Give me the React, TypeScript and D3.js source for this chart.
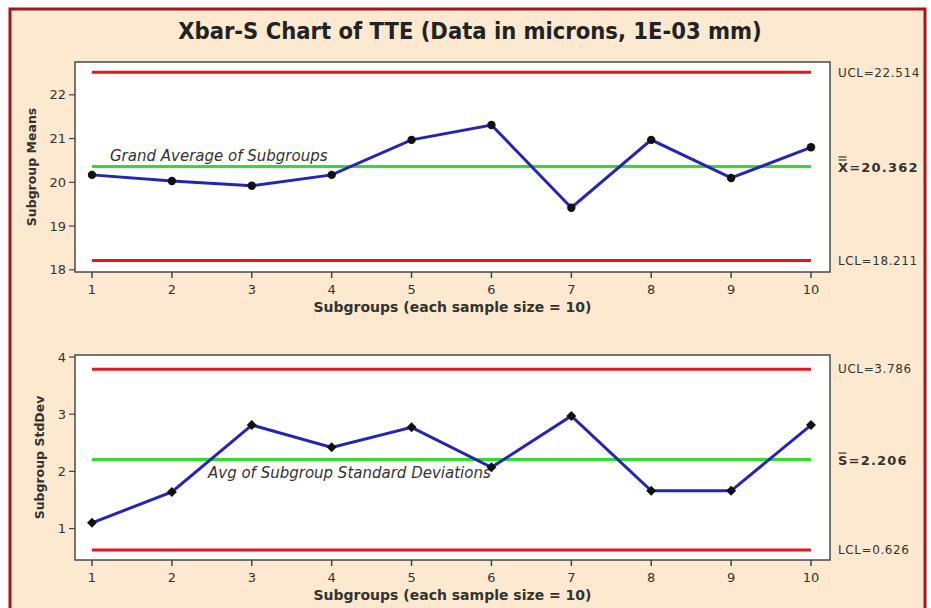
import React from "react";
import * as d3 from "d3";

const WIDTH = 931;
const HEIGHT = 608;

const subgroups = [1, 2, 3, 4, 5, 6, 7, 8, 9, 10];
const subgroupMeans = [20.17, 20.03, 19.92, 20.17, 20.97, 21.31, 19.42, 20.97, 20.1, 20.8];
const subgroupStdDevs = [1.1, 1.64, 2.81, 2.42, 2.77, 2.07, 2.97, 1.66, 1.66, 2.81];

const meanTicks = [18, 19, 20, 21, 22];
const sdTicks = [1, 2, 3, 4];

const meanLimits = { ucl: 22.514, center: 20.362, lcl: 18.211 };
const sdLimits = { ucl: 3.786, center: 2.206, lcl: 0.626 };

const FONT = "'DejaVu Sans', Verdana, sans-serif";
const BG = "#fce9cf";
const RED = "#e8161c";
const GREEN = "#2ee02a";
const BLUE = "#2424b8";

const xScale = d3.scaleLinear().domain([1, 10]).range([92, 811]);
const PLOT_LEFT = 75;
const PLOT_RIGHT = 830;

function ControlPanel({
  values,
  limits,
  yDomain,
  top,
  bottom,
  ticks,
  yLabel,
  yLabelX,
  marker,
  centerSymbol,
  note,
  noteX,
  noteDy,
}) {
  const y = d3.scaleLinear().domain(yDomain).range([bottom, top]);
  const line = d3
    .line<number>()
    .x((_, i) => xScale(subgroups[i]))
    .y((d) => y(d));
  const diamond = d3.symbol().type(d3.symbolSquare).size(50)();
  const [x0, x1] = xScale.range();
  const limitLine = (v, color) => (
    <line x1={x0} x2={x1} y1={y(v)} y2={y(v)} stroke={color} strokeWidth={3} />
  );

  return (
    <g>
      <rect
        x={PLOT_LEFT}
        y={top}
        width={PLOT_RIGHT - PLOT_LEFT}
        height={bottom - top}
        fill="#fff"
        stroke="#4a4a4a"
        strokeWidth={1.5}
      />
      {/* y axis */}
      {ticks.map((t) => (
        <g key={t} transform={`translate(${PLOT_LEFT},${y(t)})`}>
          <line x1={-6} x2={0} stroke="#444" strokeWidth={1.2} />
          <text x={-9} dy="0.35em" textAnchor="end" fontSize={13} fill="#333">
            {t}
          </text>
        </g>
      ))}
      {/* x axis */}
      {subgroups.map((s) => (
        <g key={s} transform={`translate(${xScale(s)},${bottom})`}>
          <line y1={0} y2={6} stroke="#444" strokeWidth={1.5} />
          <text y={22} textAnchor="middle" fontSize={13} fill="#333">
            {s}
          </text>
        </g>
      ))}
      <text
        x={(PLOT_LEFT + PLOT_RIGHT) / 2}
        y={bottom + 40}
        textAnchor="middle"
        fontSize={14}
        fontWeight="bold"
        fill="#333"
      >
        Subgroups (each sample size = 10)
      </text>
      <text
        transform={`translate(${yLabelX},${(top + bottom) / 2}) rotate(-90)`}
        textAnchor="middle"
        dy="0.35em"
        fontSize={12.5}
        fontWeight="bold"
        fill="#333"
      >
        {yLabel}
      </text>

      {limitLine(limits.ucl, RED)}
      {limitLine(limits.lcl, RED)}
      {limitLine(limits.center, GREEN)}

      <text
        x={noteX}
        y={y(limits.center) + noteDy}
        fontSize={15}
        fontStyle="italic"
        fill="#333"
      >
        {note}
      </text>

      <path d={line(values) || ""} fill="none" stroke={BLUE} strokeWidth={3} />
      {values.map((v, i) =>
        marker === "circle" ? (
          <circle key={i} cx={xScale(subgroups[i])} cy={y(v)} r={4.2} fill="#111" />
        ) : (
          <path
            key={i}
            d={diamond || ""}
            transform={`translate(${xScale(subgroups[i])},${y(v)}) rotate(45)`}
            fill="#111"
          />
        )
      )}

      {/* right-hand labels */}
      <text x={838} y={y(limits.ucl)} dy="0.35em" fontSize={12} fill="#333" letterSpacing={0.6}>
        UCL={limits.ucl}
      </text>
      <text x={838} y={y(limits.lcl)} dy="0.35em" fontSize={12} fill="#333" letterSpacing={0.6}>
        LCL={limits.lcl}
      </text>
      <g transform={`translate(838,${y(limits.center)})`}>
        <text dy="0.4em" fontSize={13} fontWeight="bold" fill="#333" letterSpacing={1.2}>
          {centerSymbol}={limits.center.toFixed(3)}
        </text>
        <line x1={0.5} x2={8.5} y1={-6.5} y2={-6.5} stroke="#333" strokeWidth={1.2} />
        {centerSymbol === "X" && (
          <line x1={0.5} x2={8.5} y1={-9.5} y2={-9.5} stroke="#333" strokeWidth={1.2} />
        )}
      </g>
    </g>
  );
}

export default function App() {
  return (
    <svg
      width={WIDTH}
      height={HEIGHT}
      style={{ position: "absolute", left: 0, top: 0, fontFamily: FONT }}
    >
      <rect width={WIDTH} height={HEIGHT} fill="#fff" />
      <rect x={10} y={9} width={915} height={HEIGHT + 10} fill={BG} stroke="#a3161b" strokeWidth={3} />
      <text
        x={470}
        y={39}
        textAnchor="middle"
        fontSize={23.5}
        fontWeight="bold"
        fill="#222"
        fontFamily="'DejaVu Sans Condensed', 'DejaVu Sans', sans-serif"
        fontStretch="condensed"
      >
        Xbar-S Chart of TTE (Data in microns, 1E-03 mm)
      </text>
      <ControlPanel
        values={subgroupMeans}
        limits={meanLimits}
        yDomain={[17.95, 22.75]}
        top={62}
        bottom={272}
        ticks={meanTicks}
        yLabel="Subgroup Means"
        yLabelX={32}
        marker="circle"
        centerSymbol="X"
        note="Grand Average of Subgroups"
        noteX={110}
        noteDy={-5}
      />
      <ControlPanel
        values={subgroupStdDevs}
        limits={sdLimits}
        yDomain={[0.45, 4.035]}
        top={355}
        bottom={560}
        ticks={sdTicks}
        yLabel="Subgroup StdDev"
        yLabelX={40}
        marker="diamond"
        centerSymbol="S"
        note="Avg of Subgroup Standard Deviations"
        noteX={208}
        noteDy={18}
      />
    </svg>
  );
}
